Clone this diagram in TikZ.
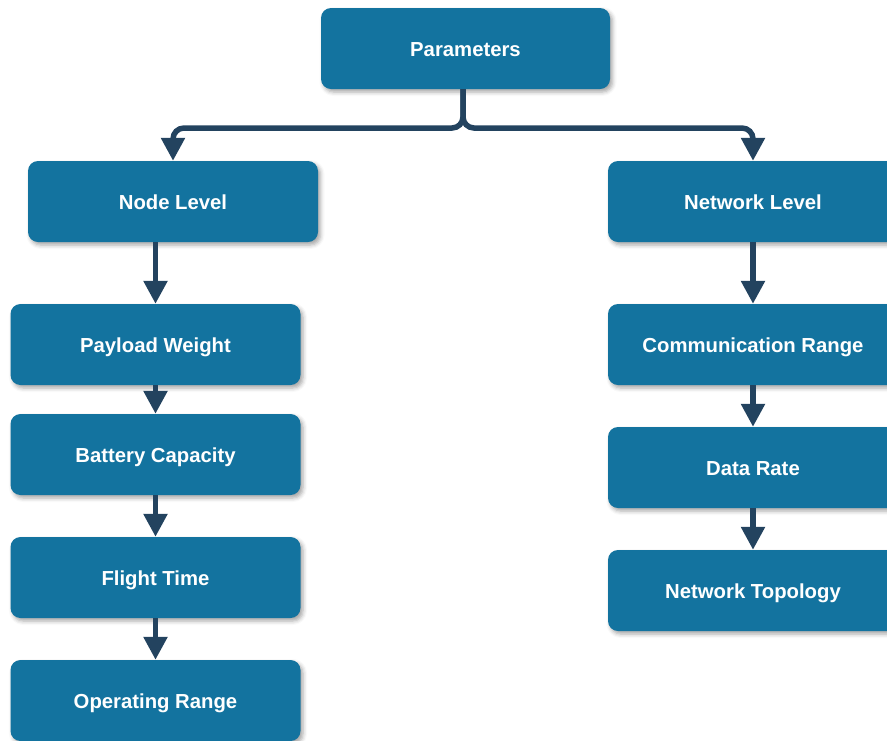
\documentclass[tikz,border=0pt]{standalone}
\usepackage{fontspec}
\setmainfont{Liberation Sans}
\usetikzlibrary{arrows.meta,shadows.blur}
\definecolor{boxblue}{HTML}{13739F}
\definecolor{linknavy}{HTML}{23435F}
\begin{document}
\begin{tikzpicture}[x=1pt,y=-1pt,
  pbox/.style={fill=boxblue, draw=none, rounded corners=10pt,
    minimum width=290pt, minimum height=81pt, inner sep=0pt,
    text height=16pt, text depth=0pt,
    text=white, font=\bfseries\fontsize{20.3}{24}\selectfont,
    blur shadow={shadow xshift=2.5pt, shadow yshift=-3pt, shadow opacity=35, shadow blur radius=4pt}},
  link/.style={draw=linknavy, line width=5.5pt,
    -{Triangle[width=23pt,length=23pt]}, color=linknavy},
  fork/.style={link, rounded corners=11pt}]
\useasboundingbox (0,0) rectangle (887,740);
\begin{scope}
\clip (0,0) rectangle (887,740);
% top level
\node[pbox, minimum width=289pt] (par) at (465.5,48.5) {Parameters};
% two branches
\node[pbox] (nl) at (173,201.5) {Node Level};
\node[pbox] (wl) at (753,201.5) {Network Level};
% node-level parameters
\node[pbox] (pw) at (155.5,344.5) {Payload Weight};
\node[pbox] (bc) at (155.5,454.5) {Battery Capacity};
\node[pbox] (ft) at (155.5,577.5) {Flight Time};
\node[pbox] (or) at (155.5,700.5) {Operating Range};
% network-level parameters
\node[pbox] (cr) at (753,344.5) {Communication Range};
\node[pbox] (dr) at (753,467.5) {Data Rate};
\node[pbox] (nt) at (753,590.5) {Network Topology};
\end{scope}
% fork from the root to both branches
\coordinate (split) at (463,128);
\draw[fork] (par.south -| split) -- (split) -| (nl.north);
\draw[fork] (par.south -| split) -- (split) -| (wl.north);
% chains
\draw[link] (nl.south -| pw.north) -- (pw.north);
\draw[link] (pw) -- (bc);
\draw[link] (bc) -- (ft);
\draw[link] (ft) -- (or);
\draw[link] (wl) -- (cr);
\draw[link] (cr) -- (dr);
\draw[link] (dr) -- (nt);
\end{tikzpicture}
\end{document}
